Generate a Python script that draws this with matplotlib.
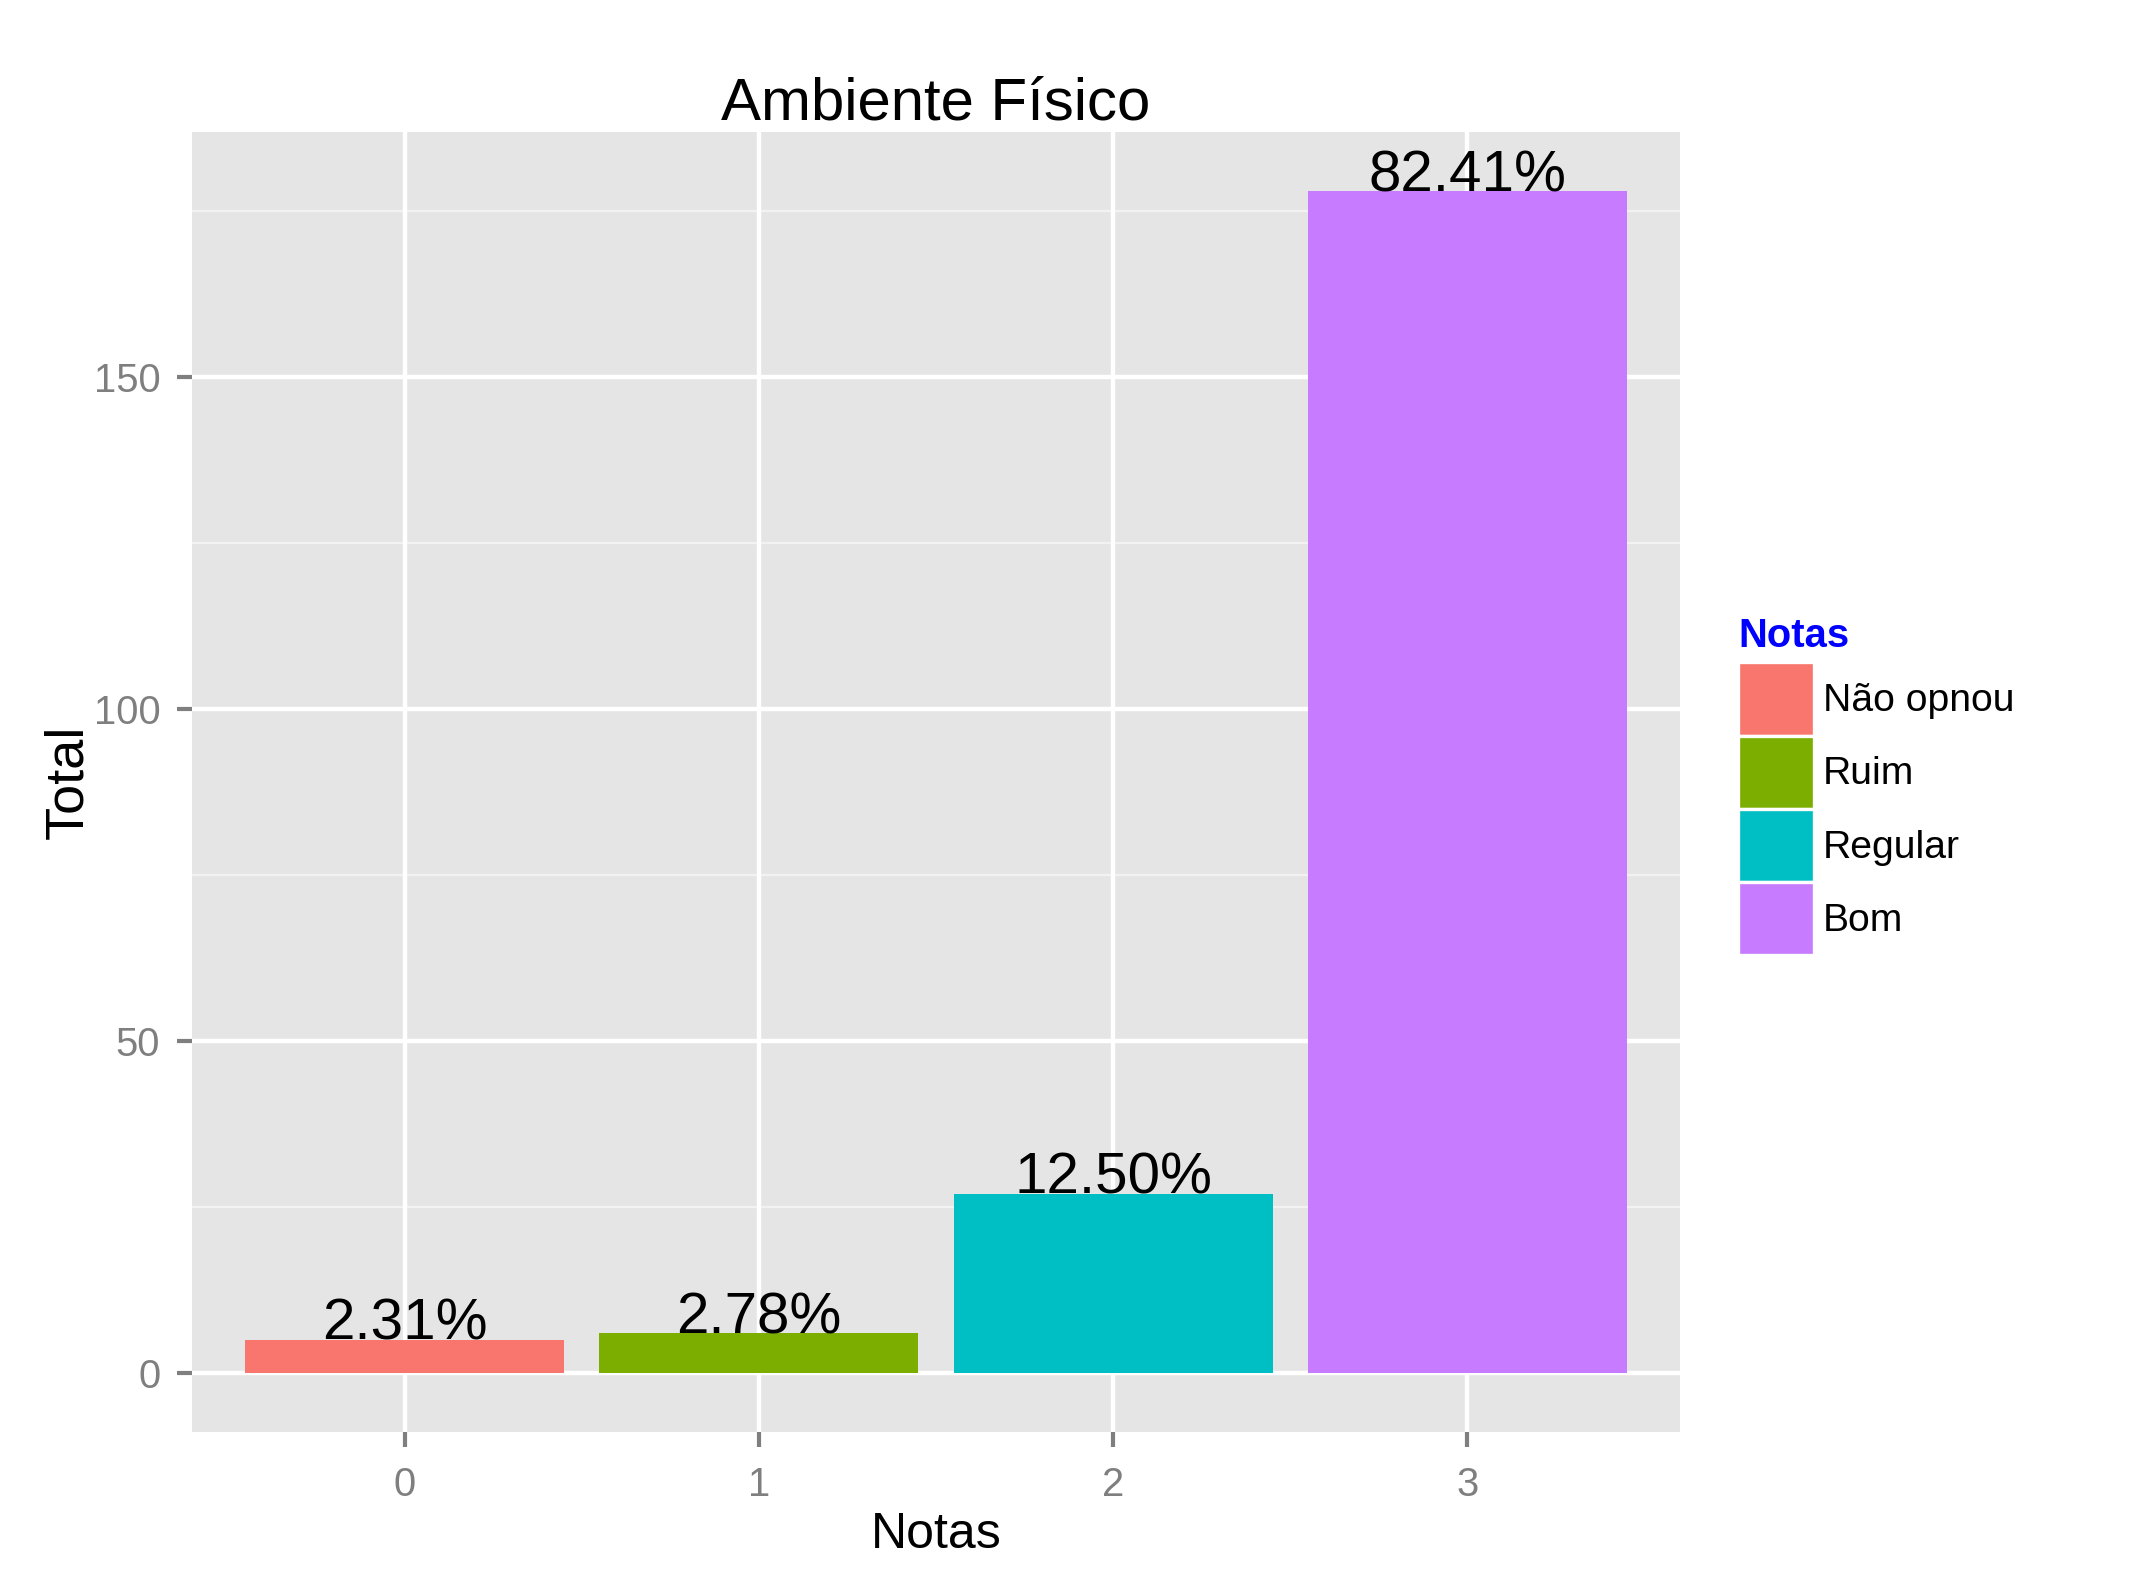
import matplotlib
matplotlib.use("Agg")
import matplotlib.pyplot as plt
from matplotlib.patches import Patch

# Data
categories = [0, 1, 2, 3]
totals = [5, 6, 27, 178]
percent_labels = ["2.31%", "2.78%", "12.50%", "82.41%"]
legend_labels = ["Não opnou", "Ruim", "Regular", "Bom"]
colors = ["#F8766D", "#7CAE00", "#00BFC4", "#C77CFF"]
y_major = [0, 50, 100, 150]
y_minor = [25, 75, 125, 175]

plt.rcParams['font.family'] = ['Liberation Sans', 'DejaVu Sans']

W, H = 2133, 1591
dpi = 300
fig = plt.figure(figsize=(W / dpi, H / dpi), dpi=dpi, facecolor="white")
L, R, T, B = 192, 1680, 132, 1432
ax = fig.add_axes([L / W, 1 - B / H, (R - L) / W, (B - T) / H])
ax.set_facecolor("#E5E5E5")

ymax = max(totals)
ax.set_xlim(-0.6, 3.6)
ax.set_ylim(-0.05 * ymax, ymax * 1.05)

# grid
ax.set_yticks(y_major)
ax.set_yticks(y_minor, minor=True)
ax.set_xticks(categories)
for y in y_minor:
    ax.axhline(y, color="#F2F2F2", lw=0.53, zorder=0.5)
for y in y_major:
    ax.axhline(y, color="white", lw=1.06, zorder=0.6)
for x in categories:
    ax.axvline(x, color="white", lw=1.06, zorder=0.6)

ax.bar(categories, totals, width=0.9, color=colors, zorder=2)
for x, v, lab in zip(categories, totals, percent_labels):
    ax.text(x, v, lab, ha="center", va="baseline", fontsize=14, color="black", zorder=3)

for s in ax.spines.values():
    s.set_visible(False)
ax.tick_params(axis="both", which="major", length=3.6, width=1.0, color="#7F7F7F",
               labelcolor="#7F7F7F", labelsize=9.6)
ax.tick_params(axis="y", which="major", pad=4)
ax.tick_params(axis="x", which="major", pad=4.5)
ax.tick_params(axis="both", which="minor", length=0)

ax.set_xlabel("Notas", fontsize=12, color="black", labelpad=2)
ax.set_ylabel("Total", fontsize=13, color="black", labelpad=0)
ax.set_title("Ambiente Físico", fontsize=14.4, color="black", pad=3)

handles = [Patch(facecolor=c, edgecolor="white", linewidth=0.8) for c in colors]
leg = fig.legend(handles, legend_labels, loc="upper left",
                 bbox_to_anchor=(1738 / W, 1 - 617 / H), frameon=False,
                 title="Notas", fontsize=9.4, handlelength=1.95, handleheight=2.5,
                 labelspacing=0.0, handletextpad=0.22, borderpad=0, borderaxespad=0)
leg.get_title().set_color("#0000FF")
leg.get_title().set_fontweight("bold")
leg.get_title().set_fontsize(9.6)
leg._legend_box.align = "left"
leg._legend_box.sep = 1.8

fig.savefig("out.png", dpi=dpi, facecolor="white")
